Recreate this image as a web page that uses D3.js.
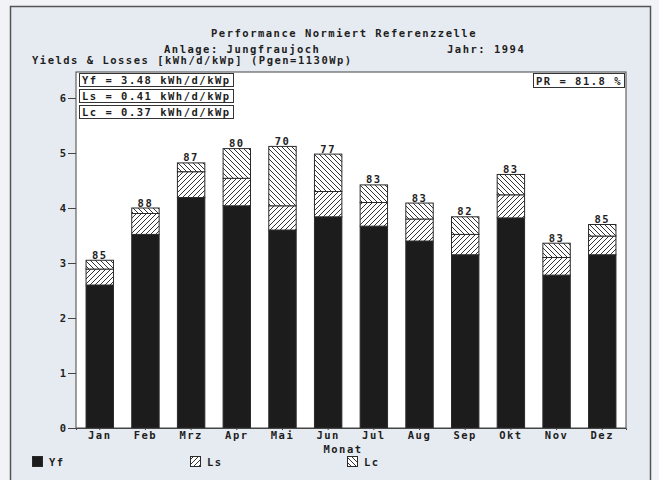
<!DOCTYPE html>
<html>
<head>
<meta charset="utf-8">
<script src="https://cdn.jsdelivr.net/npm/d3@7"></script>
<style>
  html, body { margin: 0; padding: 0; background: #f1f3f6; }
  svg { display: block; }
  text { font-family: "DejaVu Sans Mono", monospace; font-weight: bold; fill: #1e1e1e; }
</style>
</head>
<body>
<script>
// Monthly normalised yields and losses, Jungfraujoch 1994 [kWh/d/kWp]
const months = ["Jan", "Feb", "Mrz", "Apr", "Mai", "Jun", "Jul", "Aug", "Sep", "Okt", "Nov", "Dez"];
const yf = [2.60, 3.52, 4.19, 4.04, 3.60, 3.84, 3.67, 3.40, 3.15, 3.82, 2.78, 3.15];
const ls = [0.29, 0.38, 0.47, 0.50, 0.44, 0.46, 0.43, 0.40, 0.37, 0.42, 0.32, 0.34];
const lc = [0.16, 0.10, 0.16, 0.54, 1.08, 0.68, 0.32, 0.29, 0.32, 0.37, 0.26, 0.21];
const yTicks = [0, 1, 2, 3, 4, 5, 6];
const statLabels = ["Yf = 3.48 kWh/d/kWp", "Ls = 0.41 kWh/d/kWp", "Lc = 0.37 kWh/d/kWp"];
const prLabel = "PR = 81.8 %";
const legendNames = ["Yf", "Ls", "Lc"];

const W = 659, H = 480;
const plot = { left: 76, top: 72, right: 626, bottom: 428 };
const ink = "#1e1e1e";
const FS = 10.5, LSP = 1.5;   // font size and letter spacing of the wide screen font

const svg = d3.select("body").append("svg").attr("width", W).attr("height", H);

// hatch patterns: Ls rising, Lc falling
const defs = svg.append("defs");
function hatch(id, dir) {
  const p = defs.append("pattern").attr("id", id)
    .attr("patternUnits", "userSpaceOnUse").attr("width", 5).attr("height", 5);
  p.append("rect").attr("width", 5).attr("height", 5).attr("fill", "#fff");
  const d = dir > 0
    ? "M-1,1 L1,-1 M0,5 L5,0 M4,6 L6,4"
    : "M-1,4 L1,6 M0,0 L5,5 M4,-1 L6,1";
  p.append("path").attr("d", d).attr("stroke", "#333").attr("stroke-width", 1);
}
hatch("hatchLs", 1);
hatch("hatchLc", -1);

function label(sel, size) {
  return sel.attr("font-size", size || FS).attr("letter-spacing", LSP);
}

// page panel
svg.append("rect").attr("x", 0).attr("y", 0).attr("width", W).attr("height", H).attr("fill", "#f1f3f6");
svg.append("rect").attr("x", 10.5).attr("y", 6.5).attr("width", 640).attr("height", 480)
  .attr("fill", "#e6ebf1").attr("stroke", "#555").attr("stroke-width", 1.5);

// header texts
label(svg.append("text").attr("x", 344).attr("y", 37).attr("text-anchor", "middle"))
  .text("Performance Normiert Referenzzelle");
label(svg.append("text").attr("x", 164).attr("y", 53)).text("Anlage: Jungfraujoch");
label(svg.append("text").attr("x", 447).attr("y", 53)).text("Jahr: 1994");
label(svg.append("text").attr("x", 32).attr("y", 64)).text("Yields & Losses [kWh/d/kWp] (Pgen=1130Wp)");

// plot area
svg.append("rect").attr("x", plot.left).attr("y", plot.top)
  .attr("width", plot.right - plot.left).attr("height", plot.bottom - plot.top)
  .attr("fill", "#fff").attr("stroke", "#444").attr("stroke-width", 1);

const x = d3.scaleBand().domain(months).range([plot.left, plot.right])
  .paddingInner(0.4).paddingOuter(0.22);
const y = d3.scaleLinear().domain([0, 6]).range([plot.bottom, 98]);

// stacked segments
const rows = months.map((m, i) => ({ month: m, Yf: yf[i], Ls: ls[i], Lc: lc[i] }));
const stack = d3.stack().keys(legendNames)(rows);
const fills = { Yf: "#1c1c1c", Ls: "url(#hatchLs)", Lc: "url(#hatchLc)" };

const g = svg.append("g");
stack.forEach(layer => {
  g.selectAll(null).data(layer).join("rect")
    .attr("x", d => x(d.data.month))
    .attr("y", d => y(d[1]))
    .attr("width", x.bandwidth())
    .attr("height", d => y(d[0]) - y(d[1]))
    .attr("fill", fills[layer.key])
    .attr("stroke", "#2a2a2a")
    .attr("stroke-width", 1);
});

// performance ratio above each bar
label(g.selectAll(null).data(rows).join("text")
  .attr("x", d => x(d.month) + x.bandwidth() / 2)
  .attr("y", d => y(d.Yf + d.Ls + d.Lc) - 1.5)
  .attr("text-anchor", "middle"))
  .text(d => Math.round(100 * d.Yf / (d.Yf + d.Ls + d.Lc)));

// y axis
const yAxis = d3.axisLeft(y).tickValues(yTicks).tickSize(8).tickPadding(2).tickFormat(d3.format("d"));
const ya = svg.append("g").attr("transform", `translate(${plot.left},0)`).call(yAxis);
ya.select(".domain").remove();
ya.selectAll(".tick line").attr("stroke", "#444");
ya.selectAll(".tick text").attr("font-size", FS).attr("font-family", "DejaVu Sans Mono")
  .attr("font-weight", "bold").attr("fill", ink);

// x axis
const xAxis = d3.axisBottom(x).tickSize(2).tickPadding(2);
const xa = svg.append("g").attr("transform", `translate(0,${plot.bottom})`).call(xAxis);
xa.select(".domain").attr("stroke", "#444");
xa.selectAll(".tick line").attr("stroke", "#444");
xa.selectAll(".tick text").attr("font-size", FS).attr("letter-spacing", LSP)
  .attr("font-family", "DejaVu Sans Mono").attr("font-weight", "bold").attr("fill", ink);

label(svg.append("text").attr("x", 343).attr("y", 452.5).attr("text-anchor", "middle")).text("Monat");

// summary boxes
const sb = svg.append("g");
statLabels.forEach((t, i) => {
  const top = 73 + i * 16;
  sb.append("rect").attr("x", 79.5).attr("y", top + 0.5).attr("width", 154).attr("height", 13)
    .attr("fill", "#fff").attr("stroke", "#333").attr("stroke-width", 1);
  label(sb.append("text").attr("x", 82).attr("y", top + 10.5)).text(t);
});
sb.append("rect").attr("x", 533.5).attr("y", 73.5).attr("width", 91).attr("height", 14)
  .attr("fill", "#fff").attr("stroke", "#333").attr("stroke-width", 1);
label(sb.append("text").attr("x", 536).attr("y", 84.5)).text(prLabel);

// legend
const legendX = [32, 190, 347];
const lg = svg.append("g");
legendNames.forEach((k, i) => {
  lg.append("rect").attr("x", legendX[i] + 0.5).attr("y", 456.5).attr("width", 10).attr("height", 10)
    .attr("fill", fills[k]).attr("stroke", "#2a2a2a").attr("stroke-width", 1);
  label(lg.append("text").attr("x", legendX[i] + 17).attr("y", 465.5)).text(k);
});
</script>
</body>
</html>
